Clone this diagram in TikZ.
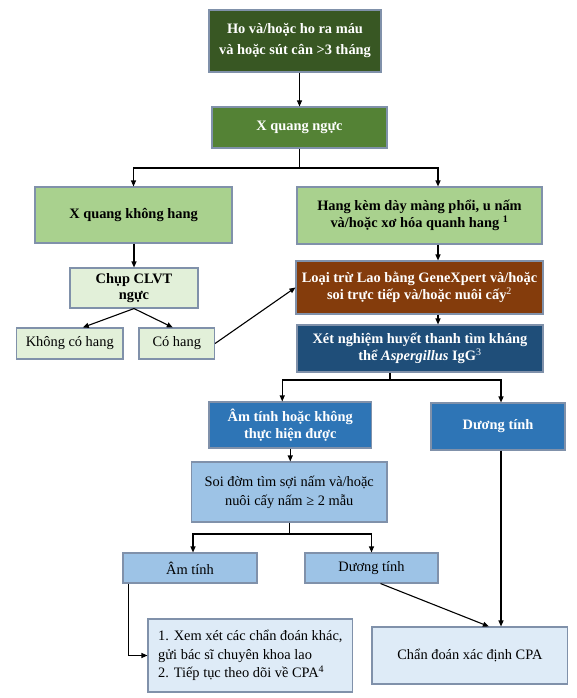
\documentclass[tikz,border=0pt]{standalone}
\usepackage{fontspec}
\setmainfont{Liberation Serif}
\usetikzlibrary{arrows.meta,calc}
\definecolor{cDG}{HTML}{385723}
\definecolor{cMG}{HTML}{548235}
\definecolor{cLG}{HTML}{A9D18E}
\definecolor{cVG}{HTML}{E2F0D9}
\definecolor{cBR}{HTML}{843C0C}
\definecolor{cDB}{HTML}{1F4E79}
\definecolor{cMB}{HTML}{2E75B6}
\definecolor{cLB}{HTML}{9DC3E6}
\definecolor{cVB}{HTML}{DEEBF7}
\definecolor{cBD}{HTML}{8091AA}
\begin{document}
\begin{tikzpicture}[x=1pt,y=-1pt,
  box/.style={draw=cBD, line width=1.1pt, inner sep=2pt, align=center,
    font=\fontsize{14.4}{16.5}\selectfont},
  darkbox/.style={box, text=white, font=\fontsize{14.4}{16.5}\selectfont\bfseries},
  boldbox/.style={box, text=black, font=\fontsize{14.4}{16.5}\selectfont\bfseries},
  arr/.style={line width=1.1pt, -{Triangle[length=6pt,width=5pt]}},
  ln/.style={line width=1.1pt}]
\path[use as bounding box] (0,0) rectangle (576,698);

\node[darkbox, fill=cDG, minimum width=172pt, minimum height=62pt,
  font=\fontsize{14.4}{21}\selectfont\bfseries] (b1) at (295,41)
  {Ho và/hoặc ho ra máu\\và hoặc sút cân >3 tháng};
\node[darkbox, fill=cMG, minimum width=175pt, minimum height=41pt] (b2) at (299.5,127.5)
  {X quang ngực};
\node[boldbox, fill=cLG, minimum width=197pt, minimum height=56pt] (b3) at (133.5,215)
  {X quang không hang};
\node[boldbox, fill=cLG, minimum width=245pt, minimum height=57pt] (b4) at (419.5,215.5)
  {Hang kèm dày màng phổi, u nấm\\và/hoặc xơ hóa quanh hang \textsuperscript{1}};
\node[boldbox, fill=cVG, minimum width=128pt, minimum height=40pt] (b5) at (134,288)
  {Chụp CLVT\\ngực};
\node[box, fill=cVG, minimum width=106.5pt, minimum height=31pt] (b6) at (69.75,343.5)
  {Không có hang};
\node[box, fill=cVG, minimum width=75.5pt, minimum height=31pt] (b7) at (176.75,343.5)
  {Có hang};
\node[darkbox, fill=cBR, minimum width=247pt, minimum height=53pt] (b8) at (419.5,287.5)
  {Loại trừ Lao bằng GeneXpert và/hoặc\\soi trực tiếp và/hoặc nuôi cấy\textsuperscript{\mdseries 2}};
\node[darkbox, fill=cDB, minimum width=246pt, minimum height=47pt] (b9) at (420,348.5)
  {Xét nghiệm huyết thanh tìm kháng\\thể \textit{Aspergillus} IgG\textsuperscript{\mdseries 3}};
\node[darkbox, fill=cMB, minimum width=162.5pt, minimum height=46pt,
  font=\fontsize{14.4}{17}\selectfont\bfseries] (b10) at (290.25,425)
  {Âm tính hoặc không\\thực hiện được};
\node[darkbox, fill=cMB, minimum width=134pt, minimum height=47pt] (b11) at (498,426.5)
  {Dương tính};
\node[box, fill=cLB, minimum width=195.6pt, minimum height=60pt] (b12) at (289.2,492)
  {\raisebox{5pt}{\renewcommand{\arraystretch}{1.2}\begin{tabular}{@{}c@{}}Soi đờm tìm sợi nấm và/hoặc\\nuôi cấy nấm ≥ 2 mẫu\end{tabular}}};
\node[box, fill=cLB, minimum width=134pt, minimum height=30pt] (b13) at (190,568)
  {Âm tính};
\node[box, fill=cLB, minimum width=133pt, minimum height=30pt] (b14) at (371.5,568)
  {Dương tính};
\node[box, fill=cVB, minimum width=204.7pt, minimum height=73pt, align=left,
  font=\fontsize{14.4}{18.5}\selectfont] (b15) at (250.35,655.5)
  {1. Xem xét các chẩn đoán khác,\\gửi bác sĩ chuyên khoa lao\\2. Tiếp tục theo dõi về CPA\textsuperscript{4}};
\node[box, fill=cVB, minimum width=195.7pt, minimum height=57pt] (b16) at (469.85,655.5)
  {Chẩn đoán xác định CPA};

% connectors
\draw[arr] (b1.south -| b2.north) -- (b2.north);
\coordinate (s1) at (299.5,168);
\coordinate (spine) at (438,0);
\draw[ln] (b2.south) -- (s1);
\draw[arr] (s1) -| (b3.north);
\draw[arr] (s1) -| (b4.north -| spine);
\draw[arr] (b4.south -| spine) -- (b8.north -| spine);
\draw[arr] (b8.south -| spine) -- (b9.north -| spine);
\draw[arr] (b5.north |- b3.south) -- (b5.north);
\draw[arr] (b5.south) -- ([xshift=13pt]b6.north);
\draw[arr] (b5.south) -- ([xshift=-4pt]b7.north);
\draw[arr] (b7.east) -- (b8.west);
\coordinate (s2) at (390,380);
\draw[ln] (b9.south -| s2) -- (s2);
\draw[arr] (s2) -| ([xshift=-8pt]b10.north);
\draw[arr] (s2) -| ([xshift=3pt]b11.north);
\draw[arr] (b10.south) -- (b10.south |- b12.north);
\coordinate (s3) at (289.2,534);
\draw[ln] (b12.south) -- (s3);
\draw[arr] (s3) -| ([xshift=3pt]b13.north);
\draw[arr] (s3) -| (b14.north);
\draw[arr] ([xshift=6pt]b13.south west) |- (b15.west);
\draw[arr] ([xshift=3pt]b11.south) -- ([xshift=3pt]b11.south |- b16.north);
\draw[arr] ([xshift=9pt]b14.south) -- ([xshift=19pt]b16.north);
\end{tikzpicture}
\end{document}
